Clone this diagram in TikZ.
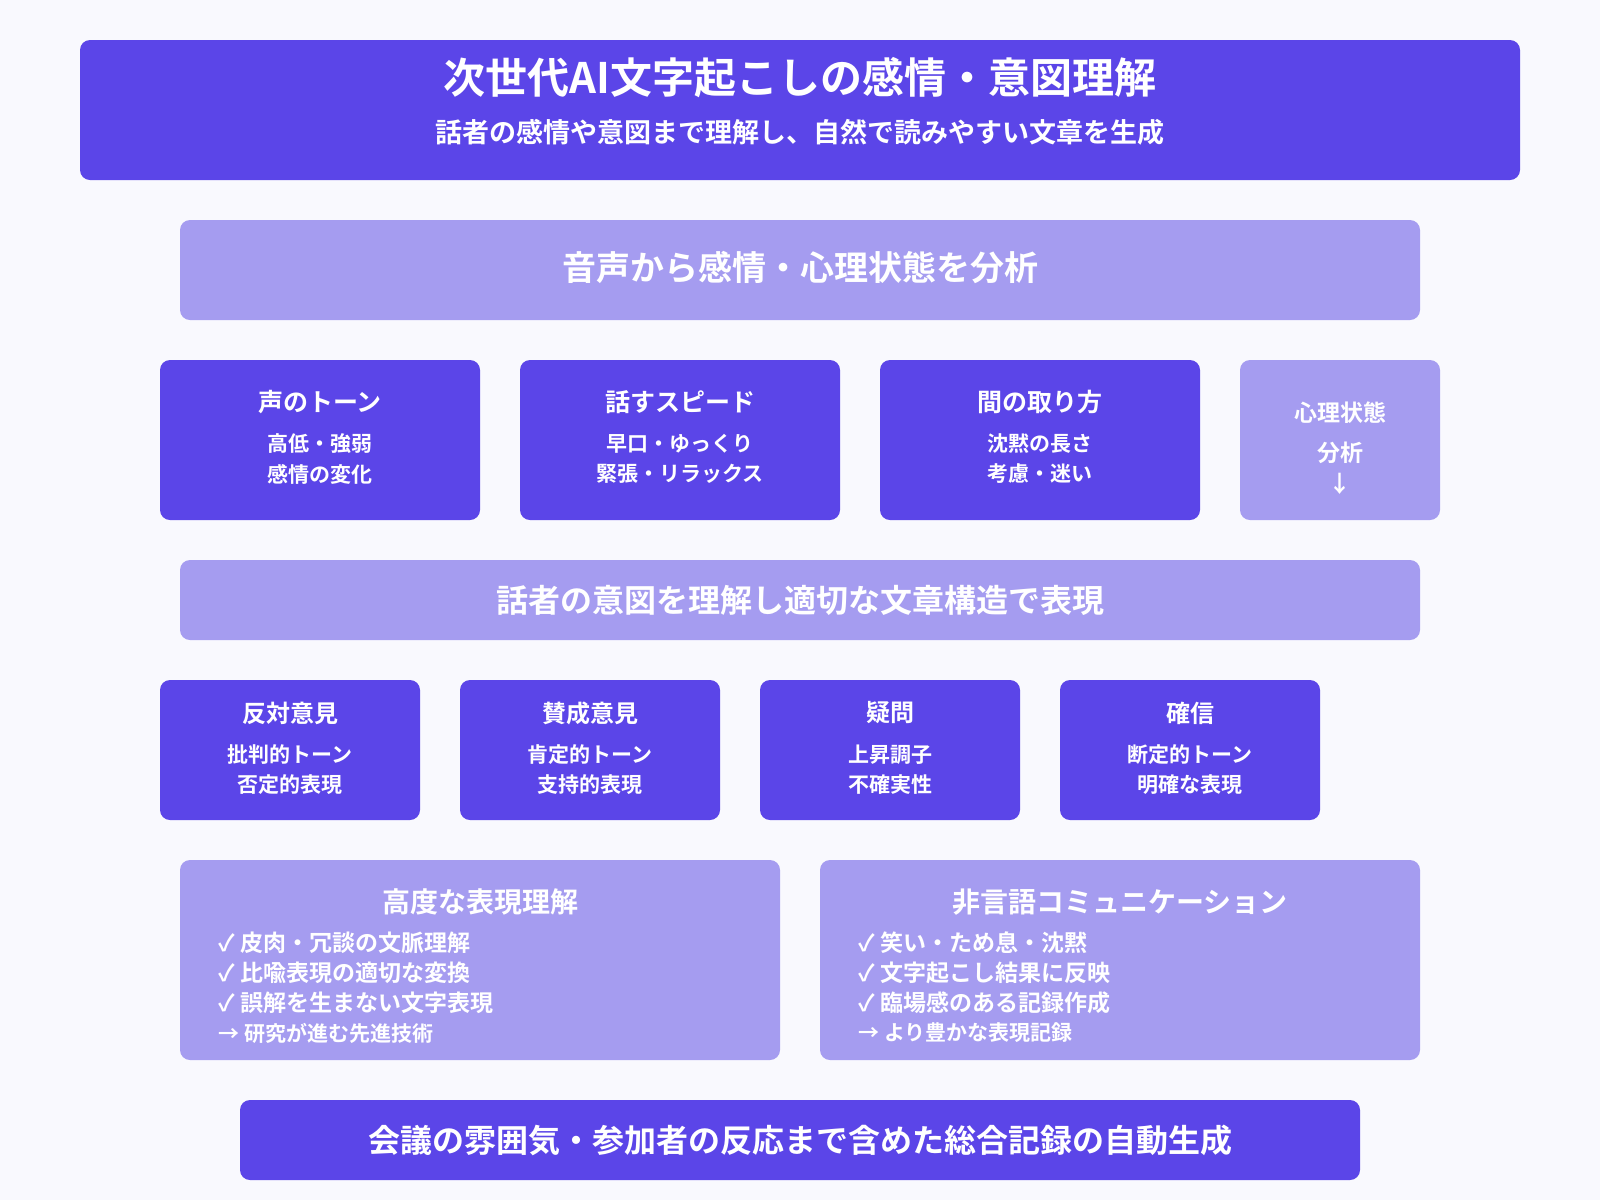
\documentclass[tikz,border=0pt]{standalone}
\usepackage{fontspec}
\setmainfont{Noto Sans CJK JP Bold}
\definecolor{dk}{HTML}{5B45E8}
\definecolor{lt}{HTML}{A59CF0}
\definecolor{bg}{HTML}{F9F9FE}
\begin{document}
\begin{tikzpicture}[x=0.5pt,y=-0.5pt,
 box/.style={rounded corners=5pt,draw=none},
 dbox/.style={box,fill=dk},
 lbox/.style={box,fill=lt},
 tx/.style={text=white,inner sep=0pt,align=center},
 f/.style={font=\fontsize{#1}{#1}\selectfont}]
\fill[bg] (0,0) rectangle (1600,1200);
\useasboundingbox (0,0) rectangle (1600,1200);
\newcommand\bx[6]{\path[#1] (#2,#3) rectangle (#4,#5); \coordinate (#6) at ({(#2+#4)/2},{(#3+#5)/2});}
\bx{dbox}{80}{40}{1520}{180}{t}
\node[tx,f=21] (t1) at (800,78) {次世代AI文字起こしの感情・意図理解};
\node[tx,f=13.5] (t2) at (800,132) {話者の感情や意図まで理解し、自然で読みやすい文章を生成};
\bx{lbox}{180}{220}{1420}{320}{b2}
\node[tx,f=17] (b2t) at (800,268) {音声から感情・心理状態を分析};
\bx{dbox}{160}{360}{480}{520}{r1}
\bx{dbox}{520}{360}{840}{520}{r2}
\bx{dbox}{880}{360}{1200}{520}{r3}
\bx{lbox}{1240}{360}{1440}{520}{r4}
\foreach \n/\x/\a/\b/\c in {a/320/声のトーン/高低・強弱/感情の変化, b/680/話すスピード/早口・ゆっくり/緊張・リラックス, c/1040/間の取り方/沈黙の長さ/考慮・迷い}{
 \node[tx,f=12.5] (h\n) at (\x,402) {\a};
 \node[tx,f=10.5] (l\n) at (\x,444) {\b};
 \node[tx,f=10.5] (m\n) at (\x,474) {\c};}
\node[tx,f=11.5] (hd) at (1340,413) {心理状態};
\node[tx,f=11.5] (ld) at (1340,453) {分析};
\node[tx,f=11.5] (md) at (1340,484) {↓};
\bx{lbox}{180}{560}{1420}{640}{b3}
\node[tx,f=16] (b3t) at (800,600) {話者の意図を理解し適切な文章構造で表現};
\foreach \n/\x/\a/\b/\c in {e/290/反対意見/批判的トーン/否定的表現, f/590/賛成意見/肯定的トーン/支持的表現, g/890/疑問/上昇調子/不確実性, h/1190/確信/断定的トーン/明確な表現}{
 \path[dbox] (\x-130,680) rectangle (\x+130,820);
 \node[tx,f=12] (h\n) at (\x,713) {\a};
 \node[tx,f=10.5] (l\n) at (\x,755) {\b};
 \node[tx,f=10.5] (m\n) at (\x,785) {\c};}
\bx{lbox}{180}{860}{780}{1060}{p1}
\bx{lbox}{820}{860}{1420}{1060}{p2}
\node[tx,f=14] (p1t) at (480,902) {高度な表現理解};
\node[tx,f=14] (p2t) at (1120,902) {非言語コミュニケーション};
\foreach \i/\s in {0/✓ 皮肉・冗談の文脈理解,1/✓ 比喩表現の適切な変換,2/✓ 誤解を生まない文字表現,3/{\fontsize{10.5}{10.5}\selectfont → 研究が進む先進技術}}
 \node[tx,f=11.5,anchor=west] (pl\i) at (218,943+30*\i) {\s};
\foreach \i/\s in {0/✓ 笑い・ため息・沈黙,1/✓ 文字起こし結果に反映,2/✓ 臨場感のある記録作成,3/{\fontsize{10.5}{10.5}\selectfont → より豊かな表現記録}}
 \node[tx,f=11.5,anchor=west] (pr\i) at (858,943+30*\i) {\s};
\bx{dbox}{240}{1100}{1360}{1180}{fz}
\node[tx,f=16] (ft) at (800,1140) {会議の雰囲気・参加者の反応まで含めた総合記録の自動生成};
\end{tikzpicture}
\end{document}
